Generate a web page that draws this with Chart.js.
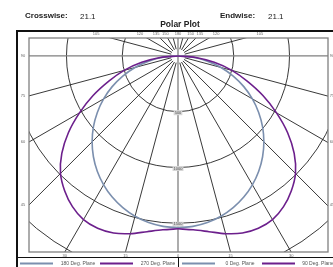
<!DOCTYPE html>
<html>
<head>
<meta charset="utf-8">
<script src="https://cdn.jsdelivr.net/npm/chart.js@4/dist/chart.umd.min.js"></script>
<style>
  html, body { margin: 0; padding: 0; background: #fff; }
  #wrap { position: relative; width: 333px; height: 267px; overflow: hidden; }
  canvas { display: block; }
</style>
</head>
<body>
<div id="wrap"><canvas id="c" width="333" height="267"></canvas></div>
<script>
  // candela values per angle from nadir (deg)
  const angles    = [0, 5, 10, 15, 20, 25, 30, 35, 40, 45, 50, 55, 60, 65, 70, 75, 80, 85, 90];
  const plane0    = [1540, 1534, 1517, 1488, 1447, 1396, 1334, 1262, 1180, 1089, 990, 883, 770, 651, 527, 399, 267, 134, 0];
  const plane90   = [1550, 1565, 1600, 1650, 1690, 1705, 1695, 1650, 1580, 1490, 1360, 1200, 1020, 840, 660, 500, 330, 160, 0];
  const plane180  = [1540, 1534, 1517, 1488, 1447, 1396, 1334, 1262, 1180, 1089, 990, 883, 770, 651, 527, 399, 267, 134, 0];
  const plane270  = [1550, 1565, 1600, 1650, 1690, 1705, 1695, 1650, 1580, 1490, 1360, 1200, 1020, 840, 660, 500, 330, 160, 0];

  const rings      = [500, 1000, 1500, 2000];
  const ringLabels = [500, 1000, 1500];
  const rayAngles  = [0, 15, 30, 45, 60, 75, 90, 105, 120, 135, 150, 165, 180];
  const topTicks   = [105, 120, 135, 150, 180];
  const sideTicks  = [90, 75, 60, 45];
  const bottomTicks = [30, 15, 0];

  const crosswise = "21.1";
  const endwise = "21.1";

  const BLUE = "#7b8fae";
  const PURPLE = "#6c1f8c";

  // polar -> cartesian in candela units (side = +1 right, -1 left)
  function toXY(vals, side) {
    return vals.map((v, i) => {
      const a = angles[i] * Math.PI / 180;
      return { x: side * v * Math.sin(a), y: -v * Math.cos(a) };
    });
  }

  const FONT = "'Liberation Sans', Arial, sans-serif";

  const polarGrid = {
    id: "polarGrid",
    beforeDraw(chart) {
      const ctx = chart.ctx;
      ctx.save();
      ctx.fillStyle = "#fff";
      ctx.fillRect(0, 0, chart.width, chart.height);

      // outer frame
      ctx.strokeStyle = "#111";
      ctx.lineWidth = 2;
      ctx.beginPath();
      ctx.moveTo(17, 267);
      ctx.lineTo(17, 31);
      ctx.lineTo(340, 31);
      ctx.stroke();
      ctx.lineWidth = 1;
      ctx.beginPath();
      ctx.moveTo(17, 257.5);
      ctx.lineTo(340, 257.5);
      ctx.moveTo(178.5, 257.5);
      ctx.lineTo(178.5, 267);
      ctx.stroke();

      // header texts
      ctx.fillStyle = "#222";
      ctx.textBaseline = "middle";
      ctx.textAlign = "left";
      ctx.font = "bold 8px " + FONT;
      ctx.fillText("Crosswise:", 25, 16);
      ctx.fillText("Endwise:", 220, 16);
      ctx.font = "8px " + FONT;
      ctx.fillText(crosswise, 80, 16.5);
      ctx.fillText(endwise, 268, 16.5);
      ctx.font = "bold 8.5px " + FONT;
      ctx.textAlign = "center";
      ctx.fillText("Polar Plot", 180, 24.5);
      ctx.restore();
    },
    beforeDatasetsDraw(chart) {
      const ctx = chart.ctx;
      const xs = chart.scales.x, ys = chart.scales.y;
      const area = chart.chartArea;
      const cx = xs.getPixelForValue(0), cy = ys.getPixelForValue(0);
      const k = xs.getPixelForValue(1000) - cx;

      ctx.save();
      ctx.beginPath();
      ctx.rect(area.left, area.top, area.right - area.left, area.bottom - area.top);
      ctx.clip();

      // rings
      ctx.strokeStyle = "#222";
      ctx.lineWidth = 0.9;
      rings.forEach(r => {
        ctx.beginPath();
        ctx.arc(cx, cy, r * k / 1000, 0, Math.PI * 2);
        ctx.stroke();
      });

      // rays
      rayAngles.forEach(a => {
        if (a === 0 || a === 90 || a === 180) return;
        const t = a * Math.PI / 180;
        [1, -1].forEach(s => {
          const dx = s * Math.sin(t), dy = Math.cos(t);
          ctx.beginPath();
          ctx.moveTo(cx + dx * 7, cy + dy * 7);
          ctx.lineTo(cx + dx * 600, cy + dy * 600);
          ctx.stroke();
        });
      });

      // axis lines
      ctx.strokeStyle = "#808080";
      ctx.lineWidth = 1.3;
      ctx.beginPath();
      ctx.moveTo(area.left, cy);
      ctx.lineTo(area.right, cy);
      ctx.moveTo(cx, area.top);
      ctx.lineTo(cx, area.bottom);
      ctx.stroke();

      // ring labels
      ctx.font = "4px " + FONT;
      ctx.textAlign = "center";
      ctx.textBaseline = "middle";
      ringLabels.forEach(r => {
        const y = ys.getPixelForValue(-r) + 1;
        const w = ctx.measureText(String(r)).width + 2;
        ctx.fillStyle = "#d6d6d6";
        ctx.fillRect(cx - w / 2, y - 2.5, w, 5);
        ctx.fillStyle = "#555";
        ctx.fillText(String(r), cx, y);
      });
      ctx.restore();

      // plot border
      ctx.save();
      ctx.strokeStyle = "#808080";
      ctx.lineWidth = 1.3;
      ctx.strokeRect(area.left, area.top, area.right - area.left, area.bottom - area.top);

      // angle labels around the border
      ctx.fillStyle = "#666";
      ctx.font = "4px " + FONT;
      ctx.textAlign = "center";
      ctx.textBaseline = "middle";
      const topY = 34;
      topTicks.forEach(a => {
        const t = a * Math.PI / 180;
        [1, -1].forEach(s => {
          if (a === 180 && s < 0) return;
          const tt = (topY - cy) / Math.cos(t);
          ctx.fillText(String(a), cx + s * Math.sin(t) * tt, topY);
        });
      });
      const botY = area.bottom + 3.5;
      bottomTicks.forEach(a => {
        const t = a * Math.PI / 180;
        [1, -1].forEach(s => {
          if (a === 0 && s < 0) return;
          const tt = (area.bottom - cy) / Math.cos(t);
          ctx.fillText(String(a), cx + s * Math.sin(t) * tt, botY);
        });
      });
      sideTicks.forEach(a => {
        const t = a * Math.PI / 180;
        const tt = (cx - area.left) / Math.sin(t);
        const y = cy + Math.cos(t) * tt;
        ctx.fillText(String(a), area.left - 6, y);
        ctx.fillText(String(a), area.right + 4, y);
      });
      ctx.restore();
    },
    afterDraw(chart) {
      // legend row
      const ctx = chart.ctx;
      const items = [
        { ds: 0, x0: 20, tx: 78 },
        { ds: 1, x0: 100, tx: 158 },
        { ds: 2, x0: 182, tx: 240 },
        { ds: 3, x0: 262, tx: 318 }
      ];
      ctx.save();
      ctx.font = "5px " + FONT;
      ctx.textAlign = "center";
      ctx.textBaseline = "middle";
      items.forEach(it => {
        const d = chart.data.datasets[it.ds];
        ctx.strokeStyle = d.borderColor;
        ctx.lineWidth = 2;
        ctx.beginPath();
        ctx.moveTo(it.x0, 263.5);
        ctx.lineTo(it.x0 + 33, 263.5);
        ctx.stroke();
        ctx.fillStyle = "#555";
        ctx.fillText(d.label, it.tx, 263.5);
      });
      ctx.restore();
    }
  };

  const line = { showLine: true, pointRadius: 0, borderWidth: 1.6, tension: 0.3, fill: false };

  new Chart(document.getElementById("c"), {
    type: "scatter",
    data: {
      datasets: [
        Object.assign({ label: "180 Deg. Plane", data: toXY(plane180, -1), borderColor: BLUE, order: 2 }, line),
        Object.assign({ label: "270 Deg. Plane", data: toXY(plane270, -1), borderColor: PURPLE, order: 1 }, line),
        Object.assign({ label: "0 Deg. Plane", data: toXY(plane0, 1), borderColor: BLUE, order: 2 }, line),
        Object.assign({ label: "90 Deg. Plane", data: toXY(plane90, 1), borderColor: PURPLE, order: 1 }, line)
      ]
    },
    options: {
      responsive: false,
      animation: false,
      layout: { padding: { left: 29, top: 38, right: 5, bottom: 15 } },
      plugins: { legend: { display: false }, title: { display: false }, tooltip: { enabled: false } },
      scales: {
        x: { type: "linear", display: false, min: -1336, max: 1345 },
        y: { type: "linear", display: false, min: -1758, max: 161 }
      }
    },
    plugins: [polarGrid]
  });
</script>
</body>
</html>
